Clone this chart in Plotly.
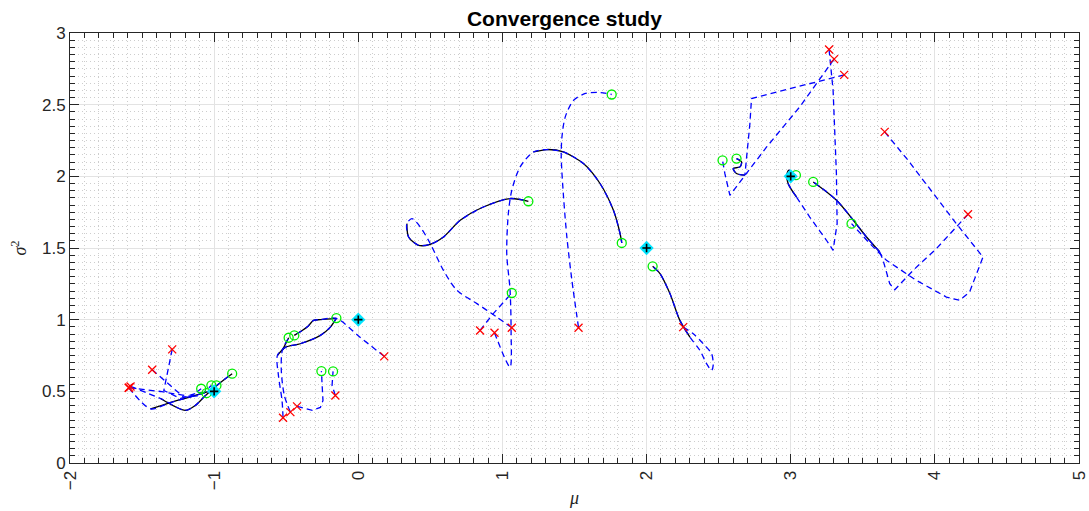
import plotly.graph_objects as go

# ---- data (mu, sigma^2) for each optimisation trajectory ----
target_mu = [-1.0, 0.0, 2.0, 3.0]
target_s2 = [0.5, 1.0, 1.5, 2.0]

# cluster around (-1, 0.5)
a1_mu = [-1.291, -1.326, -1.349, -1.234, -1.109, -1.053]
a1_s2 = [0.793, 0.632, 0.506, 0.450, 0.492, 0.487]
a2_mu = [-1.430, -1.317, -1.211, -1.095, -1.019]
a2_s2 = [0.651, 0.555, 0.459, 0.471, 0.541]
a3_mu = [-1.592, -1.372, -1.164, -1.090]
a3_s2 = [0.525, 0.499, 0.464, 0.518]
a4_mu = [-1.592, -1.441, -1.303, -1.130, -1.026, -0.984]
a4_s2 = [0.525, 0.378, 0.422, 0.471, 0.506, 0.541]
a5_mu = [-1.580, -1.372, -1.199, -1.130, -1.060, -0.956, -0.875]
a5_s2 = [0.534, 0.450, 0.367, 0.402, 0.471, 0.562, 0.623]

# cluster around (0, 1)
b1_mu = [0.180, 0.014, -0.152, -0.263, -0.310, -0.355, -0.444]
b1_s2 = [0.744, 0.876, 1.009, 1.000, 0.995, 0.948, 0.890]
b2_mu = [-0.522, -0.529, -0.554, -0.561, -0.506, -0.402, -0.263, -0.194, -0.152]
b2_s2 = [0.316, 0.436, 0.611, 0.751, 0.807, 0.832, 0.890, 0.948, 1.011]
b3_mu = [-0.471, -0.513, -0.534, -0.527, -0.483]
b3_s2 = [0.355, 0.471, 0.646, 0.786, 0.874]
b4_mu = [-0.425, -0.319, -0.263, -0.245, -0.256]
b4_s2 = [0.395, 0.367, 0.388, 0.436, 0.641]
b5_mu = [-0.159, -0.182, -0.175]
b5_s2 = [0.471, 0.541, 0.639]

# cluster around (2, 1.5)
c1_mu = [1.528, 1.482, 1.447, 1.424, 1.408, 1.413, 1.436, 1.494, 1.575, 1.677, 1.758]
c1_s2 = [0.944, 1.274, 1.577, 1.856, 2.135, 2.275, 2.415, 2.531, 2.578, 2.585, 2.571]
c2_mu = [1.065, 0.961, 0.823, 0.684, 0.591, 0.499, 0.430, 0.372, 0.337, 0.349, 0.418,
         0.499, 0.591, 0.707, 0.868, 1.053, 1.180]
c2_s2 = [0.944, 1.018, 1.112, 1.205, 1.344, 1.531, 1.647, 1.705, 1.670, 1.577, 1.519,
         1.526, 1.577, 1.693, 1.786, 1.845, 1.826]
c3_mu = [0.845, 0.926, 1.065]
c3_s2 = [0.925, 1.030, 1.186]
c4_mu = [0.945, 1.053, 1.060, 1.053, 1.030, 1.041, 1.065, 1.123, 1.215, 1.308, 1.423,
         1.562, 1.677, 1.770, 1.816, 1.828]
c4_s2 = [0.909, 0.669, 0.925, 1.205, 1.461, 1.740, 1.903, 2.066, 2.170, 2.187, 2.170,
         2.089, 1.950, 1.763, 1.601, 1.535]
c5_mu = [2.254, 2.324, 2.393, 2.451, 2.462, 2.451, 2.416, 2.370, 2.301, 2.231, 2.162,
         2.093, 2.042]
c5_s2 = [0.948, 0.902, 0.832, 0.763, 0.681, 0.646, 0.693, 0.786, 0.878, 0.995, 1.182,
         1.321, 1.372]

# cluster around (3, 2)
d1_mu = [3.266, 3.294, 3.317, 3.322, 3.294, 3.248, 3.132, 3.040, 2.982, 2.975, 2.989,
         3.012, 3.036]
d1_s2 = [2.885, 2.601, 2.020, 1.670, 1.484, 1.554, 1.716, 1.856, 1.950, 2.020, 2.043,
         2.020, 2.008]
d2_mu = [3.301, 3.179, 3.063, 2.833, 2.682, 2.578, 2.543, 2.527]
d2_s2 = [2.818, 2.648, 2.485, 2.205, 2.008, 1.868, 2.020, 2.112]
d3_mu = [3.371, 2.728, 2.717, 2.694, 2.682, 2.624, 2.601, 2.648, 2.659, 2.624]
d3_s2 = [2.708, 2.543, 2.369, 2.159, 2.008, 2.020, 2.054, 2.066, 2.101, 2.124]
d4_mu = [3.652, 3.814, 4.149, 4.334, 4.241, 4.172, 4.080, 3.872, 3.664, 3.549, 3.422]
d4_s2 = [2.310, 2.112, 1.670, 1.437, 1.193, 1.135, 1.158, 1.274, 1.414, 1.531, 1.670]
d5_mu = [4.230, 4.161, 4.011, 3.849, 3.722, 3.687, 3.641, 3.618, 3.526, 3.318, 3.156]
d5_s2 = [1.735, 1.658, 1.496, 1.344, 1.209, 1.251, 1.414, 1.472, 1.577, 1.833, 1.961]

# (mu, sigma^2, index where the converged phase starts, curved path?)
trajectories = [
    (a1_mu, a1_s2, None, False), (a2_mu, a2_s2, None, False), (a3_mu, a3_s2, None, False),
    (a4_mu, a4_s2, 1, True), (a5_mu, a5_s2, 1, True),
    (b1_mu, b1_s2, 2, True), (b2_mu, b2_s2, 3, True), (b3_mu, b3_s2, 3, True),
    (b4_mu, b4_s2, None, False), (b5_mu, b5_s2, None, False),
    (c1_mu, c1_s2, None, True), (c2_mu, c2_s2, 8, True), (c3_mu, c3_s2, None, False),
    (c4_mu, c4_s2, 8, True), (c5_mu, c5_s2, 8, True),
    (d1_mu, d1_s2, 7, False), (d2_mu, d2_s2, None, False), (d3_mu, d3_s2, 4, False),
    (d4_mu, d4_s2, None, False), (d5_mu, d5_s2, 7, False),
]

BLUE = "#0000ff"
DASH = "6px,4px"

fig = go.Figure()

# solid black final phase (underneath)
for mu, s2, k, curved in trajectories:
    if k is not None:
        fig.add_trace(go.Scatter(x=mu[k:], y=s2[k:], mode="lines",
                                 line=dict(color="black", width=1.3,
                                           shape="spline", smoothing=0.8),
                                 hoverinfo="skip", showlegend=False))
# dashed blue iterates
for mu, s2, k, curved in trajectories:
    if curved:
        fig.add_trace(go.Scatter(x=mu, y=s2, mode="lines",
                                 line=dict(color=BLUE, width=1.3, dash=DASH,
                                           shape="spline", smoothing=0.8),
                                 showlegend=False))
    elif k is not None:
        fig.add_trace(go.Scatter(x=mu[:k + 1], y=s2[:k + 1], mode="lines",
                                 line=dict(color=BLUE, width=1.3, dash=DASH),
                                 showlegend=False))
        fig.add_trace(go.Scatter(x=mu[k:], y=s2[k:], mode="lines",
                                 line=dict(color=BLUE, width=1.3, dash=DASH,
                                           shape="spline", smoothing=0.8),
                                 showlegend=False))
    else:
        fig.add_trace(go.Scatter(x=mu, y=s2, mode="lines",
                                 line=dict(color=BLUE, width=1.3, dash=DASH),
                                 showlegend=False))

start_mu = [t[0][0] for t in trajectories]
start_s2 = [t[1][0] for t in trajectories]
end_mu = [t[0][-1] for t in trajectories]
end_s2 = [t[1][-1] for t in trajectories]

fig.add_trace(go.Scatter(x=start_mu, y=start_s2, mode="markers",
                         marker=dict(symbol="x-thin-open", size=8, color="#ff0000",
                                     line=dict(color="#ff0000", width=1.3)),
                         showlegend=False))
fig.add_trace(go.Scatter(x=end_mu, y=end_s2, mode="markers",
                         marker=dict(symbol="circle-open", size=9, color="#00ee00",
                                     line=dict(color="#00ee00", width=1.3)),
                         showlegend=False))
fig.add_trace(go.Scatter(x=target_mu, y=target_s2, mode="markers",
                         marker=dict(symbol="diamond", size=11, color="#00e5ff",
                                     line=dict(width=0)),
                         showlegend=False))
fig.add_trace(go.Scatter(x=target_mu, y=target_s2, mode="markers",
                         marker=dict(symbol="cross-thin-open", size=6, color="black",
                                     line=dict(color="black", width=1.6)),
                         showlegend=False))

axis_common = dict(
    showline=True, linecolor="#262626", linewidth=1, mirror="ticks",
    ticks="inside", ticklen=9, tickcolor="#262626", tickwidth=1,
    showgrid=True, gridcolor="#e3e3e3", gridwidth=1, zeroline=False,
    tickfont=dict(family="Liberation Sans, Arial", size=17, color="#262626"),
    automargin=False,
)
minor_common = dict(ticks="inside", ticklen=5, tickcolor="#262626",
                    showgrid=True, gridcolor="#cdcdcd", griddash="1px,3px", gridwidth=1)

fig.update_xaxes(range=[-2, 5], dtick=1, tick0=0, tickangle=-90,
                 minor=dict(dtick=0.1, **minor_common),
                 title=dict(text="<i>μ</i>", font=dict(family="Liberation Serif, Times New Roman",
                                                      size=18, color="#262626"), standoff=2),
                 **axis_common)
fig.update_yaxes(range=[0, 3], dtick=0.5, tick0=0,
                 minor=dict(dtick=0.05, **minor_common),
                 title=dict(text="<i>σ</i><sup>2</sup>", font=dict(family="Liberation Serif, Times New Roman",
                                                      size=18, color="#262626"), standoff=10),
                 **axis_common)

fig.update_layout(
    width=1089, height=511,
    margin=dict(l=70, r=10, t=33, b=48),
    plot_bgcolor="white", paper_bgcolor="white",
    title=dict(text="<b>Convergence study</b>", x=0.49, xref="paper", xanchor="center",
               y=0.963, yref="container", yanchor="middle",
               font=dict(family="Liberation Sans, Arial", size=21, color="black")),
    showlegend=False,
)

fig.write_html("out.html")
